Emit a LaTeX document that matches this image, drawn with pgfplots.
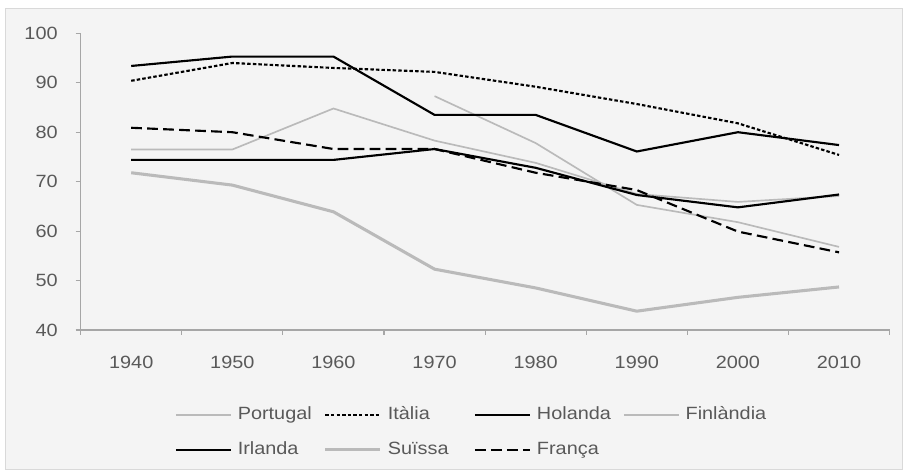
\documentclass[border=0pt]{standalone}
\usepackage{fontspec}
\setmainfont[FakeStretch=1.12]{Liberation Sans}
\usepackage{pgfplots}
\pgfplotsset{compat=1.18}

\definecolor{panel}{HTML}{F4F4F4}
\definecolor{frame}{HTML}{D9D9D9}
\definecolor{axisgray}{HTML}{A6A6A6}
\definecolor{txt}{HTML}{595959}
\definecolor{lgray}{HTML}{BABABA}

\begin{document}
\begin{tikzpicture}
% page and panel (1px = 0.75pt)
\fill[white] (-60.5pt,-104.25pt) rectangle (616.5pt,247.5pt);
\filldraw[fill=panel,draw=frame,line width=0.6pt] (-56.75pt,-104.25pt) rectangle (616.5pt,241.5pt);
\begin{axis}[
    at={(0pt,0pt)}, anchor=south west,
    scale only axis,
    width=606.75pt, height=222.5pt,
    xmin=-0.5, xmax=7.5,
    ymin=40, ymax=100,
    axis x line*=bottom,
    axis y line*=left,
    axis line style={axisgray, line width=0.8pt},
    xtick={0,...,7},
    xticklabels={1940,1950,1960,1970,1980,1990,2000,2010},
    minor xtick={-0.5,0.5,...,7.5},
    ytick={40,50,...,100},
    tick align=outside,
    major tick length=3.75pt,
    minor tick length=3.75pt,
    major x tick style={draw=none},
    tick style={axisgray, line width=0.8pt},
    /pgf/number format/assume math mode=true,
    tick label style={font=\fontsize{13.3pt}{15.5pt}\selectfont, text=txt},
    xticklabel style={yshift=-12.3pt},
    yticklabel style={xshift=-10pt},
    legend columns=4,
    legend style={
        at={(0.1159,-0.345)}, anchor=west,
        draw=none, fill=none, inner sep=0pt,
        font=\fontsize{13.3pt}{15.5pt}\selectfont, text=txt,
        nodes={inner xsep=0pt, inner ysep=0pt, text width=64.5pt, align=left,
               text height=9.8pt, text depth=3pt},
        row sep=13.45pt,
        /tikz/every odd column/.append style={column sep=4.5pt},
        /tikz/every even column/.append style={column sep=0pt},
    },
    legend image code/.code={\draw[#1] (0pt,0pt) -- (41.25pt,0pt);},
    clip=false,
]
% Portugal
\addplot[lgray, line width=1.25pt] coordinates {
    (3,87.3) (4,77.8) (5,65.3) (6,61.8) (7,56.8)
};
% Italia
\addplot[black, line width=1.6pt, dash pattern=on 2.6pt off 1.6pt] coordinates {
    (0,90.4) (1,94.0) (2,93.0) (3,92.2) (4,89.2) (5,85.7) (6,81.8) (7,75.4)
};
% Holanda
\addplot[black, line width=1.6pt] coordinates {
    (0,93.4) (1,95.3) (2,95.3) (3,83.5) (4,83.5) (5,76.1) (6,80.0) (7,77.4)
};
% Finlandia
\addplot[lgray, line width=1.25pt] coordinates {
    (0,76.5) (1,76.5) (2,84.8) (3,78.3) (4,73.8) (5,67.5) (6,65.9) (7,67.1)
};
% Irlanda
\addplot[black, line width=1.6pt] coordinates {
    (0,74.4) (1,74.4) (2,74.4) (3,76.6) (4,72.8) (5,67.3) (6,64.8) (7,67.4)
};
% Suissa
\addplot[lgray, line width=2.3pt] coordinates {
    (0,71.8) (1,69.3) (2,63.9) (3,52.3) (4,48.5) (5,43.8) (6,46.6) (7,48.7)
};
% Franca
\addplot[black, line width=1.6pt, dash pattern=on 8pt off 4pt] coordinates {
    (0,80.9) (1,80.0) (2,76.6) (3,76.6) (4,71.8) (5,68.3) (6,59.9) (7,55.7)
};
\legend{Portugal, Itàlia, Holanda, Finlàndia, Irlanda, Suïssa, França}
\end{axis}
\end{tikzpicture}
\end{document}
